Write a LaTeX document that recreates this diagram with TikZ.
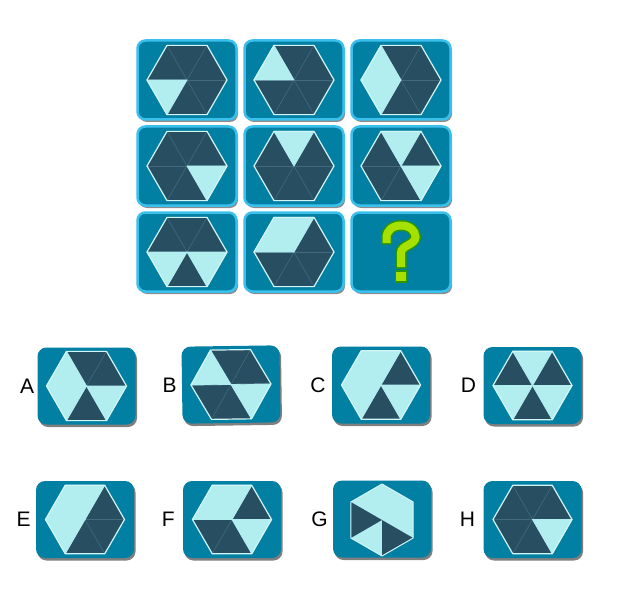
\documentclass[tikz,border=0pt]{standalone}
\usepackage{fontspec}
\setmainfont{Liberation Sans}
\usepackage{tikz}
\usetikzlibrary{positioning,shadows}
\definecolor{tileblue}{RGB}{2,128,164}
\definecolor{tilerim}{RGB}{58,192,236}
\definecolor{hexdark}{RGB}{40,78,98}
\definecolor{hexlight}{RGB}{178,238,240}
\definecolor{hexedge}{RGB}{210,245,245}
\definecolor{hexseam}{RGB}{66,106,124}
\definecolor{qyellow}{RGB}{166,224,0}
\definecolor{qgreen}{RGB}{42,150,0}

\tikzset{
  gridtile/.style={draw=tilerim,line width=2.5pt,fill=tileblue,rounded corners=8pt,
    minimum width=99pt,minimum height=79pt,
    drop shadow={shadow xshift=1.5pt,shadow yshift=-2.5pt,opacity=0.45,fill=black}},
  opttile/.style={fill=tileblue,rounded corners=9pt,minimum width=98pt,minimum height=77pt,
    drop shadow={shadow xshift=1.5pt,shadow yshift=-2.5pt,opacity=0.5,fill=black}},
  optlabel/.style={inner sep=0pt,font=\fontsize{21}{24}\selectfont}
}

% hexagon in a tile: #1 tile node, #2 radius, #3 light sectors (start angles)
\newcommand{\hexcell}[3]{%
  \begin{scope}[shift={(#1.center)}]
    \fill[hexdark] (0:#2) \foreach \a in {60,120,...,300}{-- (\a:#2)} -- cycle;
    \foreach \a in {0,60,120}{\draw[hexseam,line width=0.6pt] (\a:#2) -- ({\a+180}:#2);}
    \foreach \a in {#3}{\filldraw[fill=hexlight,draw=hexlight,line width=0.8pt,line join=round]
      (0,0) -- (\a:#2) -- ({\a+60}:#2) -- cycle;}
    \draw[hexedge,line width=1.2pt,line join=round] (0:#2) \foreach \a in {60,120,...,300}{-- (\a:#2)} -- cycle;
  \end{scope}}

\begin{document}
\begin{tikzpicture}[x=1pt,y=1pt]
\useasboundingbox[fill=white] (0,0) rectangle (618,-604);

% puzzle grid
\node[gridtile] (t11) at (187,-80) {};
\node[gridtile] (t12) at (294,-80) {};
\node[gridtile] (t13) at (401,-80) {};
\node[gridtile] (t21) at (187,-166) {};
\node[gridtile] (t22) at (294,-166) {};
\node[gridtile] (t23) at (401,-166) {};
\node[gridtile] (t31) at (187,-252) {};
\node[gridtile] (t32) at (294,-252) {};
\node[gridtile] (t33) at (401,-252) {};

\hexcell{t11}{40}{180}
\hexcell{t12}{40}{120}
\hexcell{t13}{40}{120,180}
\hexcell{t21}{40}{300}
\hexcell{t22}{40}{60}
\hexcell{t23}{40}{60,300}
\hexcell{t31}{40}{180,300}
\hexcell{t32}{40}{60,120}

% question mark
\draw[qyellow,line width=8pt,
  preaction={draw=qgreen,line width=11pt,shorten <=-1.5pt,shorten >=-1.5pt}]
  (386.5,-243) -- (386.5,-238) .. controls (386.5,-230) and (393,-225.5) .. (401,-225.5)
  .. controls (409,-225.5) and (415.5,-230) .. (415.5,-237)
  .. controls (415.5,-245) and (401,-245) .. (401,-253) -- (401,-267);
\filldraw[fill=qyellow,draw=qgreen,line width=1.5pt] (395.5,-271) rectangle (406.5,-282);

% answers
\node[opttile] (optA) at (86.5,-386) {};
\begin{scope}[rotate around={0.8:(231,-384.5)}]
\node[opttile,rotate=0.8] (optB) at (231,-384.5) {};
\hexcell{optB}{40}{120,300}
\end{scope}
\node[opttile] (optC) at (381,-385) {};
\node[opttile] (optD) at (532.5,-385.5) {};
\node[opttile] (optE) at (85,-519.5) {};
\node[opttile] (optF) at (232,-519.5) {};
\node[opttile] (optG) at (382,-519) {};
\node[opttile] (optH) at (532.5,-519.5) {};

\hexcell{optA}{40}{120,180,300}
\hexcell{optC}{39.5}{60,120,180,300}
\hexcell{optD}{39.5}{60,180,300}
\hexcell{optE}{39.5}{60,120,180}
\hexcell{optF}{39.5}{60,120,300}
\hexcell{optH}{39.5}{300}

% G is turned upright
\begin{scope}[shift={(optG.center)},yshift=-1pt]
  \fill[hexlight] (30:36) \foreach \a in {90,150,...,330}{-- (\a:36)} -- cycle;
  \fill[hexdark] (0,0) -- (150:36) -- (210:36) -- cycle;
  \fill[hexdark] (0,0) -- (270:36) -- (330:36) -- cycle;
  \draw[hexedge,line width=1pt,line join=round] (30:36) \foreach \a in {90,150,...,330}{-- (\a:36)} -- cycle;
\end{scope}

\node[optlabel,left=3pt of optA] (lblA) {A};
\node[optlabel,left=5pt of optB] (lblB) {B};
\node[optlabel,left=6pt of optC] (lblC) {C};
\node[optlabel,left=7pt of optD] (lblD) {D};
\node[optlabel,left=5pt of optE] (lblE) {E};
\node[optlabel,left=8pt of optF] (lblF) {F};
\node[optlabel,left=5pt of optG] (lblG) {G};
\node[optlabel,left=8pt of optH] (lblH) {H};
\end{tikzpicture}
\end{document}
